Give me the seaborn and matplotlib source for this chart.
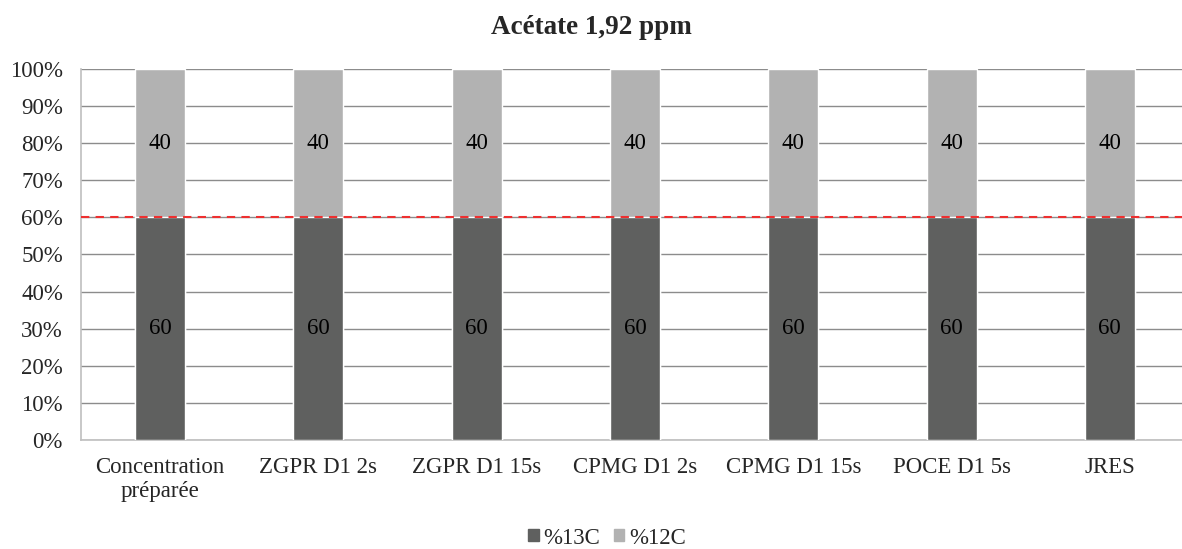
import numpy as np
import pandas as pd
import matplotlib
matplotlib.use('Agg')
import matplotlib.pyplot as plt
import seaborn as sns

# Data
categories = ['Concentration\npréparée', 'ZGPR D1 2s', 'ZGPR D1 15s', 'CPMG D1 2s',
              'CPMG D1 15s', 'POCE D1 5s', 'JRES']
pct_13c = [60, 60, 60, 60, 60, 60, 60]
pct_12c = [40, 40, 40, 40, 40, 40, 40]
reference_line = 60

sns.set_style('white')
plt.rcParams['font.family'] = ['Liberation Serif', 'DejaVu Serif']

df = pd.DataFrame({'cat': categories, 'c13': pct_13c, 'c12': pct_12c})
df['total'] = df['c13'] + df['c12']

fig = plt.figure(figsize=(11.82, 5.49), dpi=100)
ax = fig.add_axes([81 / 1182, 1 - 440 / 549, (1182 - 81) / 1182, (440 - 69) / 549])

dark = '#5f605f'
light = '#b2b2b2'
fs = 16.5

sns.barplot(data=df, x='cat', y='total', color=light, width=0.316, ax=ax,
            saturation=1, zorder=3)
sns.barplot(data=df, x='cat', y='c13', color=dark, width=0.316, ax=ax,
            saturation=1, zorder=3)

# value labels inside the segments
for i, row in df.iterrows():
    ax.text(i, row['c13'] / 2, f"{row['c13']:g}", ha='center', va='center',
            fontsize=fs, color='black', zorder=5)
    ax.text(i, row['c13'] + row['c12'] / 2, f"{row['c12']:g}", ha='center',
            va='center', fontsize=fs, color='black', zorder=5)

ax.axhline(reference_line, color='#ee3030', linestyle=(0, (4, 3)), lw=1.5, zorder=4)

ax.set_ylim(0, 100)
ax.set_xlim(-0.5, 6.456)
ax.set_yticks(np.arange(0, 101, 10))
ax.set_yticklabels([f'{v}%' for v in range(0, 101, 10)], fontsize=fs)
ax.tick_params(axis='x', labelsize=fs, length=0, pad=12)
ax.tick_params(axis='y', length=0, pad=13)
ax.set_xlabel('')
ax.set_ylabel('')
ax.yaxis.grid(True, color='#8c8c8c', lw=1, zorder=0)
ax.set_axisbelow(True)

for s in ['top', 'right']:
    ax.spines[s].set_visible(False)
for s in ['left', 'bottom']:
    ax.spines[s].set_color('#bfbfbf')
    ax.spines[s].set_linewidth(1.2)

fig.text(0.5, 1 - 27 / 549, 'Acétate 1,92 ppm', ha='center', va='center',
         fontsize=19.5, fontweight='bold')

handles = [plt.Rectangle((0, 0), 1, 1, color=dark), plt.Rectangle((0, 0), 1, 1, color=light)]
fig.legend(handles, ['%13C', '%12C'], loc='center', bbox_to_anchor=(607 / 1182, 1 - 538 / 549),
           ncol=2, frameon=False, fontsize=fs, handlelength=0.45, handleheight=0.45,
           handletextpad=0.2, columnspacing=0.6)

fig.savefig('out.png', dpi=100)
